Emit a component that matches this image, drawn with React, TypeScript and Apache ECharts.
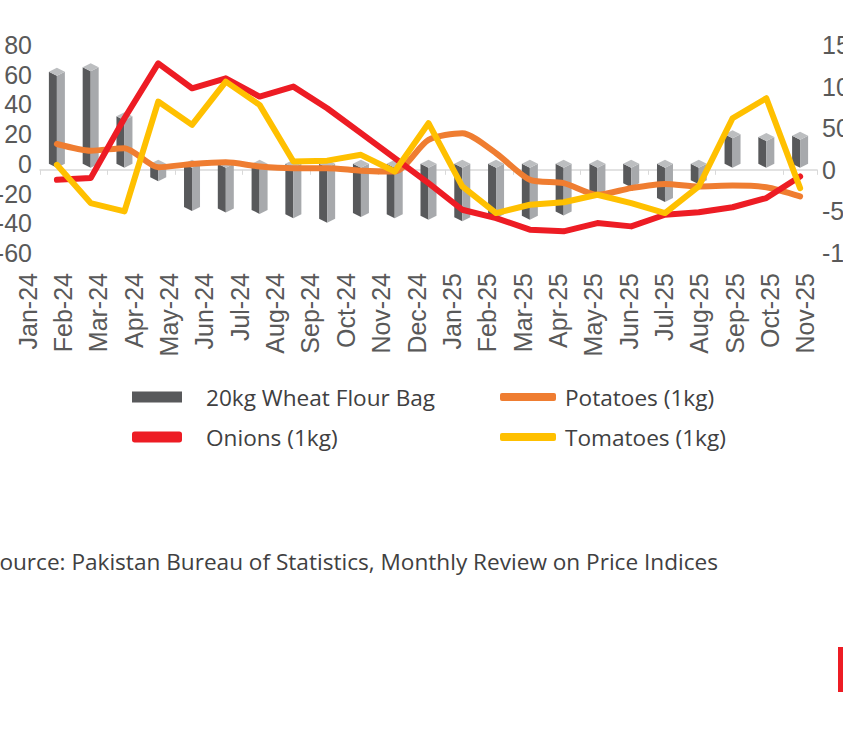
import React, { useEffect, useRef } from "react";
import * as echarts from "echarts";

const months = [
  "Jan-24", "Feb-24", "Mar-24", "Apr-24", "May-24", "Jun-24", "Jul-24", "Aug-24",
  "Sep-24", "Oct-24", "Nov-24", "Dec-24", "Jan-25", "Feb-25", "Mar-25", "Apr-25",
  "May-25", "Jun-25", "Jul-25", "Aug-25", "Sep-25", "Oct-25", "Nov-25",
];

// left axis (%), 3D bars
const wheatFlour = [62, 65, 32, -9, -29, -30, -31, -34, -37, -33, -34, -35, -36, -34, -35, -32, -18, -13, -23, -11, 20, 18, 19];
// right axis (%), lines
const potatoes = [31, 23, 26, 3, 7, 9, 4, 2, 2, -1, -2, 36, 44, 20, -12, -16, -30, -22, -17, -20, -19, -21, -32];
const onions = [-12, -10, 62, 128, 98, 110, 88, 100, 74, 44, 14, -16, -48, -58, -72, -74, -64, -68, -54, -51, -45, -34, -8];
const tomatoes = [6, -40, -50, 82, 54, 106, 78, 10, 11, 18, -2, 56, -20, -52, -42, -39, -30, -40, -52, -20, 62, 86, -22];

const leftTicks = { min: -60, max: 80, interval: 20 };
const rightTicks = { min: -100, max: 150, interval: 50 };

const SOURCE = "Source: Pakistan Bureau of Statistics, Monthly Review on Price Indices";

export default function App() {
  const ref = useRef<HTMLDivElement>(null);
  useEffect(() => {
    if (!ref.current) return;
    const chart = echarts.init(ref.current, null, { renderer: "svg" });
    const axisFont = "'Liberation Sans', Arial, sans-serif";
    const textFont = "'Open Sans', 'Noto Sans', sans-serif";
    const grey = "#595959";
    const option: any = {
      animation: false,
      backgroundColor: "#ffffff",
      grid: [
        { left: 40, right: 26, top: 45, height: 208, outerBoundsMode: "none", containLabel: false },
        { left: 10, right: 20, top: 150, height: 118, outerBoundsMode: "none", containLabel: false },
      ],
      xAxis: [
        {
          type: "category",
          gridIndex: 0,
          data: months,
          boundaryGap: true,
          axisLabel: { show: false },
          axisLine: { onZero: true, onZeroAxisIndex: 1, lineStyle: { color: "#d9d9d9", width: 1.5 } },
          axisTick: { show: true, length: 5, lineStyle: { color: "#d9d9d9" } },
          splitLine: { show: false },
        },
        {
          type: "category",
          gridIndex: 1,
          data: months,
          axisLine: { show: false },
          axisTick: { show: false },
          axisLabel: { rotate: 90, margin: 5, fontSize: 25, color: grey, fontFamily: axisFont, interval: 0 },
        },
      ],
      yAxis: [
        {
          type: "value",
          gridIndex: 0,
          min: leftTicks.min,
          max: leftTicks.max,
          interval: leftTicks.interval,
          splitLine: { show: false },
          axisLine: { show: false },
          axisTick: { show: false },
          axisLabel: { fontSize: 25, color: grey, fontFamily: axisFont, margin: 8 },
        },
        {
          type: "value",
          gridIndex: 0,
          position: "right",
          min: rightTicks.min,
          max: rightTicks.max,
          interval: rightTicks.interval,
          splitLine: { show: false },
          axisLine: { show: false },
          axisTick: { show: false },
          axisLabel: { fontSize: 25, color: grey, fontFamily: axisFont, margin: 5 },
        },
        { type: "value", gridIndex: 1, show: false },
      ],
      legend: [
        {
          left: 132,
          top: 385,
          padding: 0,
          orient: "vertical",
          itemGap: 16,
          itemWidth: 50,
          itemHeight: 11,
          textStyle: { fontSize: 22.6, color: "#404041", fontFamily: textFont, lineHeight: 24, padding: [0, 0, 0, 19] },
          data: [
            { name: "20kg Wheat Flour Bag", icon: "rect", itemStyle: { color: "#58595b" } },
            { name: "Onions (1kg)", icon: "roundRect" },
          ],
        },
        {
          left: 500,
          top: 385,
          padding: 0,
          orient: "vertical",
          itemGap: 16,
          itemWidth: 56,
          itemHeight: 8,
          textStyle: { fontSize: 22.6, color: "#404041", fontFamily: textFont, lineHeight: 24, padding: [0, 0, 0, 4] },
          data: [
            { name: "Potatoes (1kg)", icon: "roundRect" },
            { name: "Tomatoes (1kg)", icon: "roundRect" },
          ],
        },
      ],
      series: [
        {
          name: "20kg Wheat Flour Bag",
          type: "custom",
          xAxisIndex: 0,
          yAxisIndex: 0,
          itemStyle: { color: "#58595b" },
          data: wheatFlour.map((v, i) => [i, v]),
          encode: { x: 0, y: 1 },
          renderItem: (params: any, api: any) => {
            const i = api.value(0);
            const v = api.value(1);
            const top = api.coord([i, v]);
            const base = api.coord([i, 0]);
            const c = top[0];
            const w = 8;
            const d = 4;
            const yT = Math.min(top[1], base[1]);
            const yB = Math.max(top[1], base[1]);
            return {
              type: "group",
              children: [
                { type: "polygon", shape: { points: [[c - w, yT], [c, yT + d], [c, yB + d], [c - w, yB]] }, style: { fill: "#58595b" } },
                { type: "polygon", shape: { points: [[c, yT + d], [c + w, yT], [c + w, yB], [c, yB + d]] }, style: { fill: "#a7a9ac" } },
                { type: "polygon", shape: { points: [[c - w, yT], [c, yT - d], [c + w, yT], [c, yT + d]] }, style: { fill: "#bcbec0" } },
              ],
            };
          },
          z: 1,
        },
        {
          name: "Potatoes (1kg)",
          type: "line",
          yAxisIndex: 1,
          data: potatoes,
          symbol: "none",
          smooth: 0.25,
          itemStyle: { color: "#ef7d31" },
          lineStyle: { color: "#ef7d31", width: 6, cap: "round", join: "round" },
          z: 2,
        },
        {
          name: "Onions (1kg)",
          type: "line",
          yAxisIndex: 1,
          data: onions,
          symbol: "none",
          itemStyle: { color: "#ed1c24" },
          lineStyle: { color: "#ed1c24", width: 6, cap: "round", join: "round" },
          z: 3,
        },
        {
          name: "Tomatoes (1kg)",
          type: "line",
          yAxisIndex: 1,
          data: tomatoes,
          symbol: "none",
          itemStyle: { color: "#ffc000" },
          lineStyle: { color: "#ffc000", width: 6, cap: "round", join: "round" },
          z: 4,
        },
      ],
      graphic: [
        {
          type: "text",
          x: -13,
          y: 561,
          style: { text: SOURCE, fontSize: 22.6, fontFamily: textFont, fill: "#404041", textVerticalAlign: "middle" },
        },
        { type: "rect", shape: { x: 838, y: 647, width: 10, height: 45 }, style: { fill: "#ed1c24" } },
      ],
    };
    chart.setOption(option);
    return () => chart.dispose();
  }, []);
  return (
    <div
      ref={ref}
      style={{ position: "absolute", left: 0, top: 0, width: 843, height: 747, background: "#fff" }}
    />
  );
}
